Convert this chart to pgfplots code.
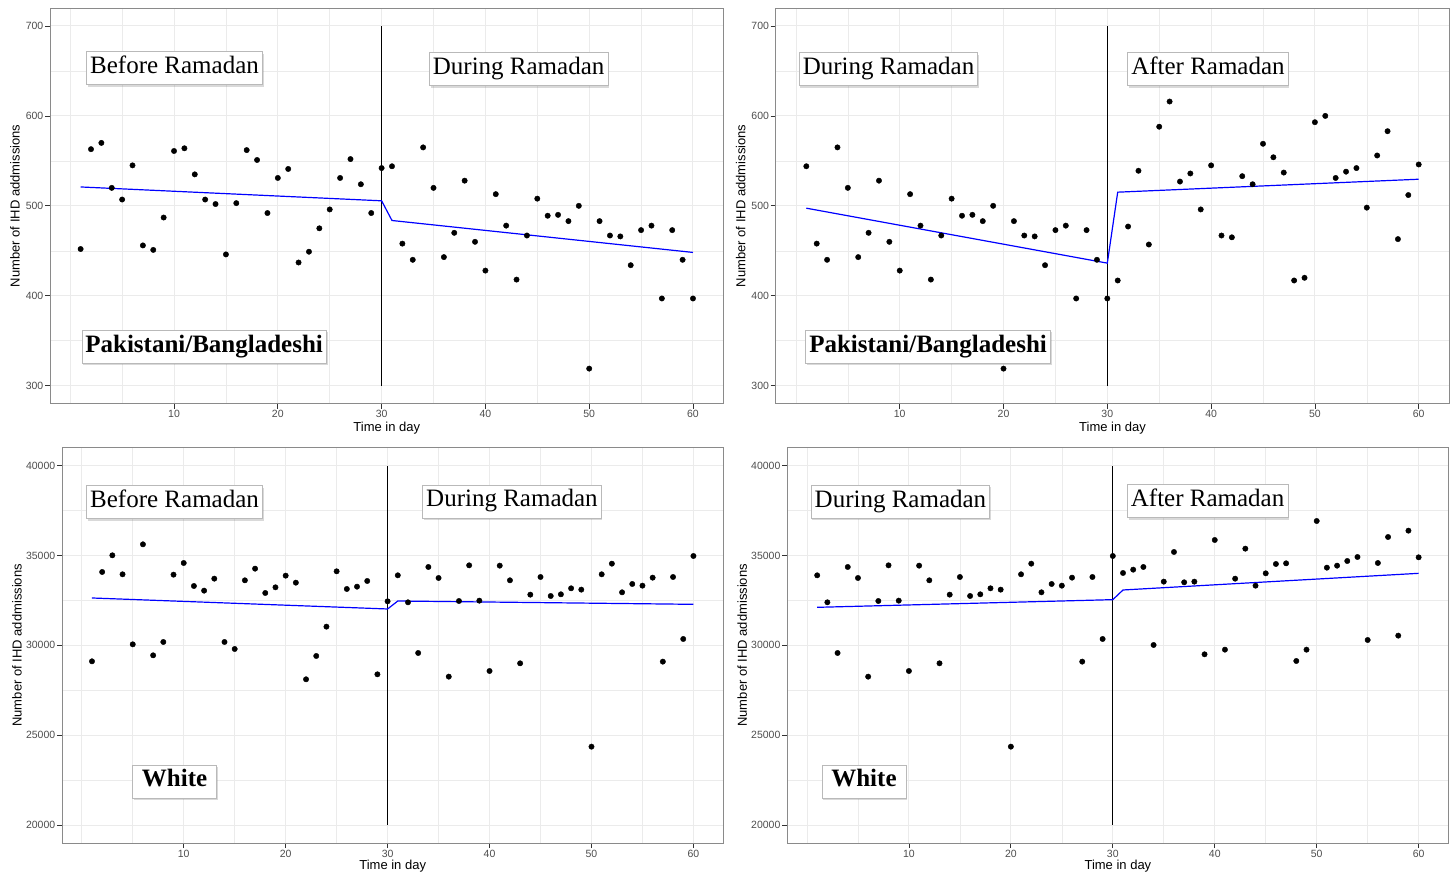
\documentclass[border=0pt]{standalone}
\usepackage{fontspec}
\setmainfont{Liberation Sans}
\newfontfamily\tnr{Liberation Serif}
\usepackage{pgfplots}
\pgfplotsset{compat=1.18}
\usepackage{pgfplotstable}
\usetikzlibrary{shadows}

\definecolor{gridgrey}{HTML}{EBEBEB}
\definecolor{framegrey}{HTML}{8A8A8A}
\definecolor{ticktext}{HTML}{4D4D4D}
\definecolor{tickgrey}{HTML}{333333}

% Pakistani/Bangladeshi: days 1-30 of each period
\pgfplotstableread{
day before during after
1  452 544 417
2  563 458 477
3  570 440 539
4  520 565 457
5  507 520 588
6  545 443 616
7  456 470 527
8  451 528 536
9  487 460 496
10 561 428 545
11 564 513 467
12 535 478 465
13 507 418 533
14 502 467 524
15 446 508 569
16 503 489 554
17 562 490 537
18 551 483 417
19 492 500 420
20 531 319 593
21 541 483 600
22 437 467 531
23 449 466 538
24 475 434 542
25 496 473 498
26 531 478 556
27 552 397 583
28 524 473 463
29 492 440 512
30 542 397 546
}\pbdata

% White
\pgfplotstableread{
day before during after
1  29111 33897 34027
2  34083 32395 34212
3  35010 29575 34361
4  33953 34361 30020
5  30057 33749 33545
6  35622 28258 35196
7  29445 32468 33508
8  30187 34453 33545
9  33934 32487 29501
10 34583 28573 35863
11 33303 34435 29760
12 33044 33619 33711
13 33711 29000 35381
14 30187 32821 33322
15 29798 33804 34008
16 33619 32747 34528
17 34268 32840 34565
18 32914 33174 29130
19 33229 33100 29760
20 33879 24362 36921
21 33489 33953 34324
22 28110 34546 34435
23 29408 32951 34695
24 31040 33415 34917
25 34120 33322 30298
26 33137 33767 34583
27 33266 29093 36030
28 33582 33804 30540
29 28387 30354 36383
30 32450 34973 34899
}\whdata

\pgfplotsset{
  panel/.style={
    scale only axis, anchor=south west,
    xmin=-1.95, xmax=62.95,
    xtick={10,20,...,60}, minor xtick={0,5,15,25,35,45,55},
    grid=both,
    major grid style={gridgrey, line width=1pt},
    minor grid style={gridgrey, line width=0.6pt},
    axis line style={framegrey, line width=0.8pt},
    tick align=outside, xtick pos=left, ytick pos=left,
    major tick length=5pt, minor tick length=0pt,
    tick style={tickgrey, line width=0.8pt},
    ticklabel style={font=\fontsize{10.5}{12}\selectfont, text=ticktext, inner sep=1.5pt},
    /pgf/number format/assume math mode=true,
    scaled y ticks=false,
    /pgf/number format/1000 sep={},
    xlabel={Time in day}, ylabel={Number of IHD addmissions},
    label style={font=\fontsize{13}{15}\selectfont},
  },
  pbpanel/.style={panel, width=673.6pt, height=395.7pt,
    ymin=280, ymax=720, ytick={300,400,...,700}, minor ytick={350,450,550,650},
    xlabel style={at={(axis description cs:0.5,-0.0607)}, anchor=center},
    ylabel style={at={(axis description cs:-0.052,0.5)}, anchor=center}},
  whpanel/.style={panel, width=661.6pt, height=395.3pt,
    ymin=19000, ymax=41000, ytick={20000,25000,...,40000}, minor ytick={22500,27500,32500,37500},
    xlabel style={at={(axis description cs:0.5,-0.058)}, anchor=center},
    ylabel style={at={(axis description cs:-0.068,0.5)}, anchor=center}},
  pts/.style={only marks, mark=*, mark size=2.7pt, black},
  fit/.style={blue, line width=1.2pt, mark=none},
  vline/.style={black, line width=1.2pt, mark=none},
}
\tikzset{
  lab/.style={font=\tnr\fontsize{25}{30}\selectfont, draw=gray!55, line width=0.6pt,
    fill=white, inner xsep=3.5pt, inner ysep=5pt, text height=17pt, text depth=6pt,
    drop shadow={shadow xshift=1.2pt, shadow yshift=-2.2pt, opacity=0.3}},
}

\begin{document}
\begin{tikzpicture}
\path[use as bounding box] (0,0) rectangle (1453pt,875pt);

% top left: before vs during, Pakistani/Bangladeshi
\begin{axis}[pbpanel, at={(50pt,471.3pt)}]
  \addplot[vline] coordinates {(30,300) (30,700)};
  \addplot[pts] table[x=day, y=before] {\pbdata};
  \addplot[pts] table[x expr=\thisrow{day}+30, y=during] {\pbdata};
  \addplot[fit] coordinates {(1,521) (30,505.6) (31,483.7) (60,448.2)};
  \node[lab] at (axis cs:10.05,653.3) {Before Ramadan};
  \node[lab] at (axis cs:43.2,652.2) {During Ramadan};
  \node[lab, font=\tnr\bfseries\fontsize{25}{30}\selectfont] at (axis cs:12.9,343.3) {Pakistani/Bangladeshi};
\end{axis}

% top right: during vs after, Pakistani/Bangladeshi
\begin{axis}[pbpanel, at={(775.7pt,471.3pt)}]
  \addplot[vline] coordinates {(30,300) (30,700)};
  \addplot[pts] table[x=day, y=during] {\pbdata};
  \addplot[pts] table[x expr=\thisrow{day}+30, y=after] {\pbdata};
  \addplot[fit] coordinates {(1,497.4) (30,436.3) (31,515.2) (60,529.6)};
  \node[lab] at (axis cs:8.92,652.2) {During Ramadan};
  \node[lab] at (axis cs:39.7,652.2) {After Ramadan};
  \node[lab, font=\tnr\bfseries\fontsize{25}{30}\selectfont] at (axis cs:12.73,343.3) {Pakistani/Bangladeshi};
\end{axis}

% bottom left: before vs during, White
\begin{axis}[whpanel, at={(61.9pt,32pt)}]
  \addplot[vline] coordinates {(30,20000) (30,40000)};
  \addplot[pts] table[x=day, y=before] {\whdata};
  \addplot[pts] table[x expr=\thisrow{day}+30, y=during] {\whdata};
  \addplot[fit] coordinates {(1,32636) (30,32024) (31,32468) (60,32283)};
  \node[lab] at (axis cs:9.1,37980) {Before Ramadan};
  \node[lab] at (axis cs:42.2,38008) {During Ramadan};
  \node[lab, inner xsep=9.5pt, font=\tnr\bfseries\fontsize{25}{30}\selectfont] at (axis cs:9.1,22426) {White};
\end{axis}

% bottom right: during vs after, White
\begin{axis}[whpanel, at={(787.1pt,32pt)}]
  \addplot[vline] coordinates {(30,20000) (30,40000)};
  \addplot[pts] table[x=day, y=during] {\whdata};
  \addplot[pts] table[x expr=\thisrow{day}+30, y=after] {\whdata};
  \addplot[fit] coordinates {(1,32116) (30,32543) (31,33081) (60,34008)};
  \node[lab] at (axis cs:9.17,37997) {During Ramadan};
  \node[lab] at (axis cs:39.3,38036) {After Ramadan};
  \node[lab, inner xsep=9.5pt, font=\tnr\bfseries\fontsize{25}{30}\selectfont] at (axis cs:5.59,22426) {White};
\end{axis}
\end{tikzpicture}
\end{document}
